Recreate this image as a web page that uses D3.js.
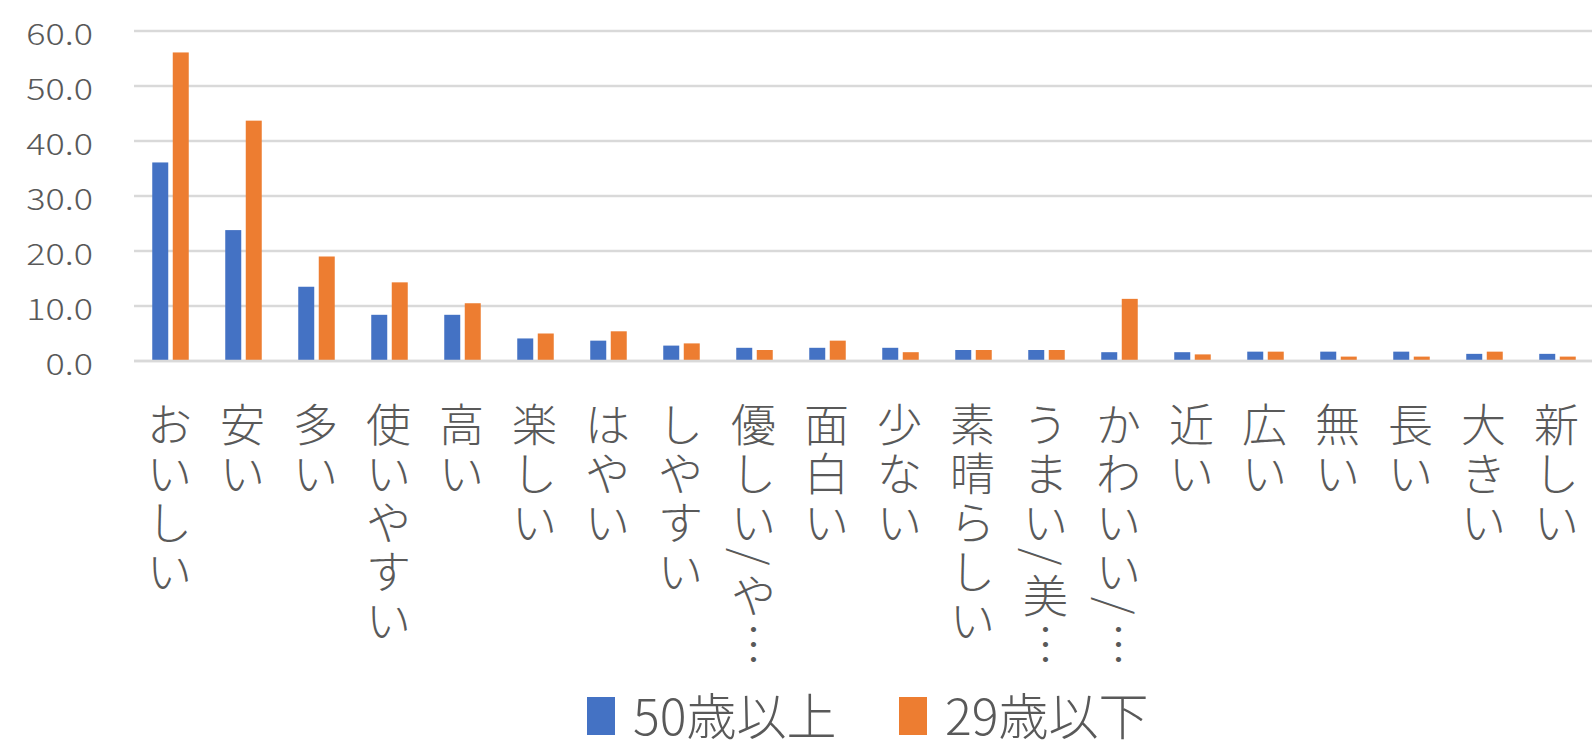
<!DOCTYPE html>
<html>
<head>
<meta charset="utf-8">
<script src="https://cdn.jsdelivr.net/npm/d3@7"></script>
<style>
  html, body { margin: 0; padding: 0; background: #ffffff; }
  svg { display: block; }
  text { font-family: "Noto Sans CJK JP", "Noto Sans", sans-serif; fill: #595959; }
</style>
</head>
<body>
<svg id="chart" width="1592" height="743"></svg>
<script>
// ---- data ----
const categories = ["おいしい","安い","多い","使いやすい","高い","楽しい","はやい","しやすい","優しい/や…","面白い","少ない","素晴らしい","うまい/美…","かわいい/…","近い","広い","無い","長い","大きい","新しい"];
const seriesNames = ["50歳以上","29歳以下"];
const over50 = [36.1, 23.8, 13.5, 8.4, 8.4, 4.1, 3.7, 2.8, 2.4, 2.4, 2.4, 2.0, 2.0, 1.6, 1.6, 1.7, 1.7, 1.7, 1.3, 1.3];
const under29 = [56.1, 43.7, 19.0, 14.3, 10.5, 5.0, 5.4, 3.2, 2.0, 3.7, 1.6, 2.0, 2.0, 11.3, 1.2, 1.7, 0.8, 0.8, 1.7, 0.8];
const yTicks = [0, 10, 20, 30, 40, 50, 60];
const colors = ["#4472C4", "#ED7D31"];

// ---- layout ----
const svg = d3.select("#chart");
const plotLeft = 134, plotRight = 1594, y0 = 361, yTop = 31;

const x = d3.scaleBand().domain(categories).range([plotLeft, plotRight]).padding(0);
const x1 = d3.scaleBand().domain(seriesNames).range([18.25, 54.75]).paddingInner(0.22);
const y = d3.scaleLinear().domain([0, 60]).range([y0, yTop]);

const rows = categories.map((c, i) => ({ cat: c, vals: [over50[i], under29[i]] }));

// gridlines
svg.append("g").selectAll("line").data(yTicks).join("line")
  .attr("x1", plotLeft).attr("x2", 1592)
  .attr("y1", d => y(d)).attr("y2", d => y(d))
  .attr("stroke", "#d9d9d9").attr("stroke-width", 2.6);

// y-axis labels (via d3 axis tick values)
const yAxis = d3.axisLeft(y).tickValues(yTicks).tickFormat(d3.format(".1f")).tickSize(0);
const ya = svg.append("g").call(yAxis);
ya.select(".domain").remove();
ya.selectAll(".tick text").remove();
ya.selectAll(".tick").each(function(d) {
  d3.select(this).attr("transform", null);
  d3.select(this).append("g")
    .attr("transform", `translate(93,${y(d) + 14}) scale(1.2,1)`)
    .append("text")
    .attr("text-anchor", "end")
    .attr("font-size", 30)
    .attr("font-weight", 300)
    .attr("fill", "#595959")
    .text(d3.format(".1f")(d));
});

// bars
const groups = svg.append("g").selectAll("g").data(rows).join("g")
  .attr("transform", d => `translate(${x(d.cat)},0)`);
groups.selectAll("rect").data(d => d.vals.map((v, k) => ({ v, s: seriesNames[k], k }))).join("rect")
  .attr("x", d => x1(d.s))
  .attr("width", x1.bandwidth())
  .attr("y", d => y(d.v))
  .attr("height", d => y0 - y(d.v))
  .attr("fill", d => colors[d.k]);

// baseline
svg.append("line").attr("x1", plotLeft).attr("x2", 1592).attr("y1", y0).attr("y2", y0)
  .attr("stroke", "#d9d9d9").attr("stroke-width", 2.6);

// vertical category labels
const labelSize = 45;
const firstCenter = 422;
const cjkAdv = 49, slashAdv = 24;
const lg = svg.append("g");
categories.forEach(cat => {
  const cx = x(cat) + x.bandwidth() / 2 - 1;
  const chars = Array.from(cat);
  let pos = firstCenter;
  chars.forEach((ch, i) => {
    const adv = ch === "/" ? slashAdv : cjkAdv;
    if (i > 0) {
      const prevAdv = chars[i - 1] === "/" ? slashAdv : cjkAdv;
      pos += prevAdv / 2 + adv / 2;
    }
    const t = lg.append("text")
      .attr("x", cx).attr("y", pos)
      .attr("text-anchor", "middle").attr("dominant-baseline", "central")
      .attr("font-size", labelSize).attr("font-weight", 300);
    if (ch === "/") {
      t.attr("transform", `rotate(90,${cx},${pos})`).text("/");
    } else {
      t.text(ch === "…" ? "︙" : ch);
    }
  });
});

// legend
const legendItems = [
  { name: seriesNames[0], color: colors[0], rx: 587 },
  { name: seriesNames[1], color: colors[1], rx: 899 }
];
const leg = svg.append("g").selectAll("g").data(legendItems).join("g");
leg.append("rect").attr("x", d => d.rx).attr("y", 697).attr("width", 28).attr("height", 38)
  .attr("fill", d => d.color);
leg.append("text").attr("x", d => d.rx + 46).attr("y", 735)
  .attr("font-size", 50).attr("font-weight", 300)
  .text(d => d.name);
</script>
</body>
</html>
